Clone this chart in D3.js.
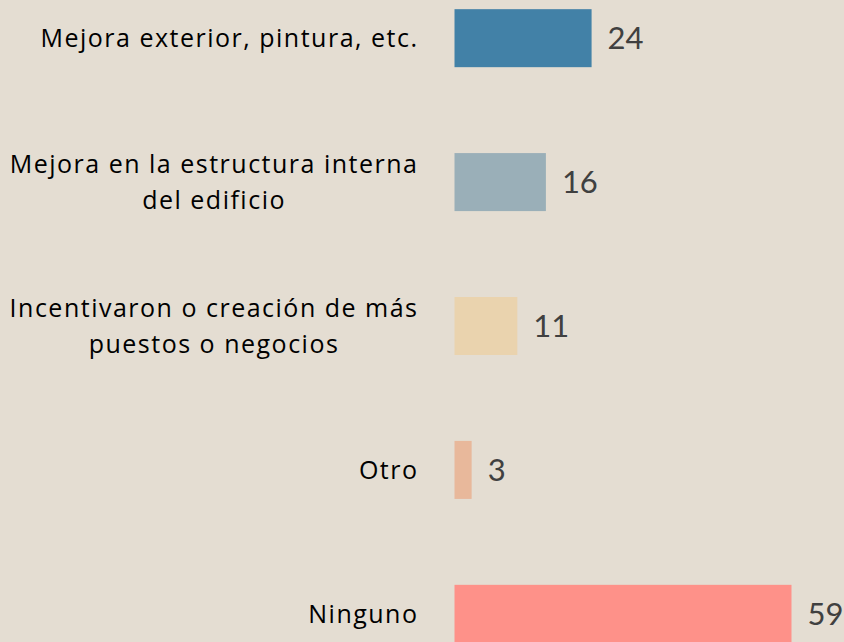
<!DOCTYPE html>
<html>
<head>
<meta charset="utf-8">
<script src="https://cdn.jsdelivr.net/npm/d3@7"></script>
<style>
  html, body { margin: 0; padding: 0; background: #e4ddd2; }
  svg { display: block; }
</style>
</head>
<body>
<div id="chart"></div>
<script>
// chart data
var categories = [
    ["Mejora exterior, pintura, etc."],
    ["Mejora en la estructura interna", "del edificio"],
    ["Incentivaron o creación de más", "puestos o negocios"],
    ["Otro"],
    ["Ninguno"]
];
var values = [24, 16, 11, 3, 59];
var colors = ["#4281a7", "#9aafb8", "#ead3ae", "#e8b89b", "#fe9189"];

var w = 844, h = 642;
var left = 454.5;
var labelRight = 417;

var svg = d3.select("#chart")
    .append("svg")
    .attr("width", w)
    .attr("height", h);

svg.append("rect")
    .attr("width", w)
    .attr("height", h)
    .attr("fill", "#e4ddd2");

var x = d3.scaleLinear()
    .domain([0, 59])
    .range([left, 791.5]);

var y = d3.scaleBand()
    .domain(d3.range(values.length))
    .range([-34, 686])
    .paddingInner(0.597)
    .paddingOuter(0.3);

var rows = svg.selectAll("g.row")
    .data(values)
    .enter().append("g")
    .attr("class", "row");

rows.append("rect")
    .attr("x", x(0))
    .attr("y", function(d, i) { return y(i); })
    .attr("width", function(d) { return x(d) - x(0); })
    .attr("height", y.bandwidth())
    .attr("fill", function(d, i) { return colors[i]; });

rows.append("text")
    .attr("x", function(d) { return x(d) + 16; })
    .attr("y", function(d, i) { return y(i) + y.bandwidth() / 2; })
    .attr("dy", "0.36em")
    .attr("font-family", "Lato, sans-serif")
    .attr("font-size", 31)
    .attr("fill", "#404040")
    .text(function(d) { return d; });

// category labels: block right-aligned at labelRight, lines centered in it
rows.append("text")
    .attr("font-family", "'Open Sans', sans-serif")
    .attr("font-size", 25)
    .attr("letter-spacing", 1.5)
    .attr("fill", "#000")
    .each(function(d, i) {
        var lines = categories[i];
        var cy = y(i) + y.bandwidth() / 2;
        var t = d3.select(this);
        var lh = 36;
        var spans = lines.map(function(s, j) {
            return t.append("tspan")
                .attr("y", cy + (j - (lines.length - 1) / 2) * lh)
                .attr("dy", "0.35em")
                .text(s);
        });
        var maxw = d3.max(spans, function(sp) { return sp.node().getComputedTextLength(); });
        t.attr("text-anchor", "middle");
        spans.forEach(function(sp) { sp.attr("x", labelRight + 1.5 - maxw / 2); });
    });
</script>
</body>
</html>
